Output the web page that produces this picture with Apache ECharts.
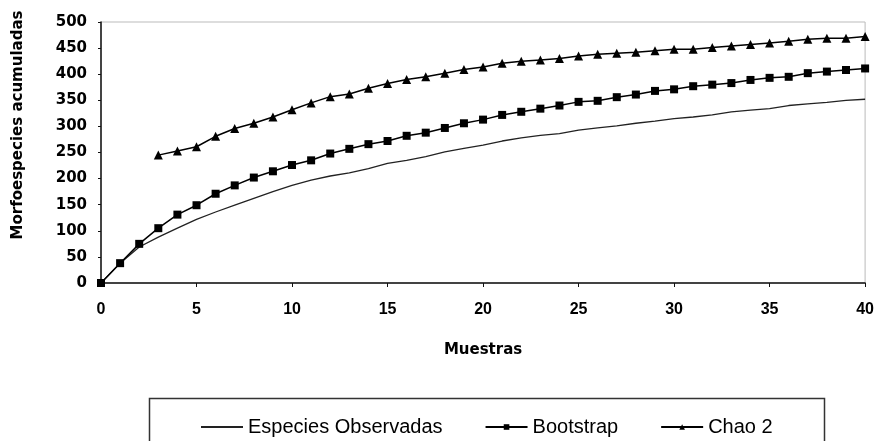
<!DOCTYPE html>
<html>
<head>
<meta charset="utf-8">
<script src="https://cdn.jsdelivr.net/npm/echarts@6/dist/echarts.min.js"></script>
<style>
html,body{margin:0;padding:0;background:#fff;}
#chart{width:877px;height:441px;}
</style>
</head>
<body>
<div id="chart"></div>
<script>
// Data
var samples = [0,1,2,3,4,5,6,7,8,9,10,11,12,13,14,15,16,17,18,19,20,21,22,23,24,25,26,27,28,29,30,31,32,33,34,35,36,37,38,39,40];
var observed = [0, 38, 69, 88, 105, 122, 136, 149, 162, 175, 187, 197, 205, 211, 219, 229, 235, 242, 251, 258, 264, 272, 278, 283, 286, 293, 297, 301, 306, 310, 315, 318, 322, 328, 331, 334, 340, 343, 346, 350, 352];
var bootstrap = [0, 38, 75, 105, 131, 149, 171, 187, 202, 214, 226, 235, 248, 257, 266, 272, 282, 288, 297, 306, 313, 322, 328, 334, 340, 347, 349, 356, 361, 368, 371, 377, 380, 383, 389, 393, 395, 402, 405, 408, 411];
var chaoStart = 3;
var chao2 = [245, 253, 261, 281, 296, 306, 318, 332, 345, 357, 362, 373, 382, 390, 395, 402, 409, 414, 421, 425, 427, 430, 435, 438, 440, 442, 445, 448, 448, 451, 454, 457, 460, 463, 467, 469, 469, 472];
var seriesNames = ['Especies Observadas', 'Bootstrap', 'Chao 2'];
var xTitle = 'Muestras';
var yTitle = 'Morfoespecies acumuladas';

function pairs(xs, ys) { return ys.map(function (v, i) { return [xs[i], v]; }); }
var chaoX = samples.slice(chaoStart, chaoStart + chao2.length);

var chart = echarts.init(document.getElementById('chart'), null, {renderer: 'canvas'});
chart.setOption({
  animation: false,
  backgroundColor: '#fff',
  grid: {left: 101, right: 11, top: 22, bottom: 158, show: true, borderColor: '#bbb', borderWidth: 1, backgroundColor: 'transparent'},
  xAxis: {
    type: 'value', min: 0, max: 40, interval: 5,
    name: xTitle, nameLocation: 'middle', nameGap: 60,
    nameTextStyle: {fontFamily: 'DejaVu Sans', fontWeight: 'bold', fontSize: 15, color: '#000'},
    axisLine: {show: true, lineStyle: {color: '#111', width: 1.5}},
    axisTick: {show: true, inside: false, length: 4, lineStyle: {color: '#111', width: 1}},
    axisLabel: {margin: 19, fontFamily: 'Liberation Sans', fontWeight: 'bold', fontSize: 16, color: '#000'},
    splitLine: {show: false}
  },
  yAxis: {
    type: 'value', min: 0, max: 500, interval: 50,
    axisLine: {show: true, lineStyle: {color: '#111', width: 1.5}},
    axisTick: {show: true, inside: false, length: 3, lineStyle: {color: '#111', width: 1}},
    axisLabel: {margin: 14, fontFamily: 'DejaVu Sans', fontWeight: 'bold', fontSize: 15, color: '#000'},
    splitLine: {show: false}
  },
  legend: {
    left: 195, top: 412,
    itemWidth: 42, itemHeight: 7, itemGap: 42,
    textStyle: {fontFamily: 'Liberation Sans', fontSize: 20, color: '#000'},
    data: [
      {name: seriesNames[0], itemStyle: {opacity: 0}},
      {name: seriesNames[1]},
      {name: seriesNames[2]}
    ]
  },
  graphic: [
    {type: 'rect', left: 147, top: 396, shape: {width: 675, height: 60}, style: {fill: 'none', stroke: '#333', lineWidth: 1.5}, z: -1},
    {type: 'text', x: 18, y: 125, rotation: Math.PI / 2,
     style: {text: yTitle, fontFamily: 'DejaVu Sans', fontWeight: 'bold', fontSize: 15, fill: '#000', textAlign: 'center', textVerticalAlign: 'middle'}}
  ],
  series: [
    {name: seriesNames[0], type: 'line', data: pairs(samples, observed), showSymbol: false, symbol: 'none',
     lineStyle: {color: '#222', width: 1.3}, itemStyle: {color: '#222'}},
    {name: seriesNames[1], type: 'line', data: pairs(samples, bootstrap), symbol: 'rect', symbolSize: 8,
     lineStyle: {color: '#000', width: 1.5}, itemStyle: {color: '#000'}},
    {name: seriesNames[2], type: 'line', data: pairs(chaoX, chao2), symbol: 'triangle', symbolSize: 9,
     lineStyle: {color: '#000', width: 1.5}, itemStyle: {color: '#000'}}
  ]
});
</script>
</body>
</html>
